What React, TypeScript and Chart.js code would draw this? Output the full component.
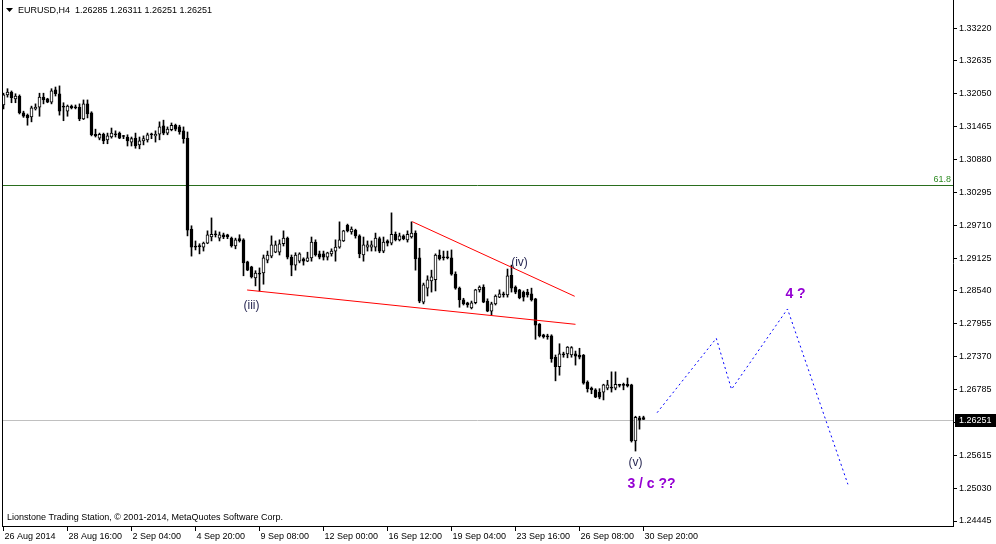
import React, { useEffect, useRef } from "react";
import { Chart, registerables } from "chart.js";

Chart.register(...registerables);

// ---------- data ----------
const titleText = "EURUSD,H4  1.26285 1.26311 1.26251 1.26251";
const footerText = "Lionstone Trading Station, \u00A9 2001-2014, MetaQuotes Software Corp.";

const xTickIndex = [0, 16, 32, 48, 64, 80, 96, 112, 128, 144, 160];
const xTickLabels = [
  "26 Aug 2014", "28 Aug 16:00", "2 Sep 04:00", "4 Sep 20:00", "9 Sep 08:00",
  "12 Sep 00:00", "16 Sep 12:00", "19 Sep 04:00", "23 Sep 16:00", "26 Sep 08:00", "30 Sep 20:00",
];
const yTickValues = [
  1.3322, 1.32635, 1.3205, 1.31465, 1.3088, 1.30295, 1.2971, 1.29125,
  1.2854, 1.27955, 1.2737, 1.26785, 1.262, 1.25615, 1.2503, 1.24445,
];

const openP = [
  1.3185, 1.3203, 1.3208, 1.3196, 1.3201, 1.3171, 1.3167, 1.3164, 1.3178, 1.3181,
  1.3199, 1.3196, 1.3190, 1.3212, 1.3205, 1.3183, 1.3174, 1.3183, 1.3181, 1.3181,
  1.3160, 1.3187, 1.3171, 1.3133, 1.3126, 1.3133, 1.3123, 1.3128, 1.3133, 1.3135,
  1.3130, 1.3128, 1.3119, 1.3126, 1.3114, 1.3121, 1.3123, 1.3133, 1.3130, 1.3133,
  1.3148, 1.3135, 1.3141, 1.3149, 1.3146, 1.3139, 1.3126, 1.2964, 1.2934, 1.2934,
  1.2932, 1.2939, 1.2950, 1.2955, 1.2948, 1.2954, 1.2954, 1.2948, 1.2934, 1.2947,
  1.2945, 1.2906, 1.2897, 1.2877, 1.2886, 1.2886, 1.2909, 1.2916, 1.2923, 1.2923,
  1.2938, 1.2948, 1.2914, 1.2900, 1.2907, 1.2911, 1.2907, 1.2913, 1.2941, 1.2920,
  1.2920, 1.2914, 1.2920, 1.2925, 1.2932, 1.2943, 1.2971, 1.2959, 1.2962, 1.2952,
  1.2918, 1.2932, 1.2932, 1.2932, 1.2947, 1.2925, 1.2943, 1.2939, 1.2955, 1.2945,
  1.2952, 1.2945, 1.2950, 1.2957, 1.2913, 1.2834, 1.2859, 1.2872, 1.2874, 1.2918,
  1.2914, 1.2914, 1.2913, 1.2884, 1.2859, 1.2838, 1.2833, 1.2824, 1.2833, 1.2856,
  1.2861, 1.2836, 1.2818, 1.2831, 1.2843, 1.2849, 1.2847, 1.2882, 1.2861, 1.2856,
  1.2852, 1.2852, 1.2849, 1.2840, 1.2795, 1.2776, 1.2774, 1.2774, 1.2736, 1.2719,
  1.2742, 1.2742, 1.2740, 1.2742, 1.2740, 1.2740, 1.2692, 1.2681, 1.2678, 1.2674,
  1.2674, 1.2681, 1.2683, 1.2681, 1.2687, 1.2687, 1.2688, 1.2687, 1.2587, 1.2628,
  1.26285,
];
const highP = [
  1.3206, 1.3214, 1.3210, 1.3205, 1.3203, 1.3174, 1.3169, 1.3183, 1.3187, 1.3206,
  1.3206, 1.3197, 1.3214, 1.3217, 1.3219, 1.3189, 1.3185, 1.3185, 1.3185, 1.3187,
  1.3194, 1.3194, 1.3173, 1.3142, 1.3135, 1.3135, 1.3135, 1.3144, 1.3139, 1.3137,
  1.3131, 1.3132, 1.3128, 1.3135, 1.3128, 1.3130, 1.3135, 1.3135, 1.3139, 1.3155,
  1.3158, 1.3146, 1.3153, 1.3151, 1.3149, 1.3146, 1.3137, 1.2970, 1.2943, 1.2938,
  1.2941, 1.2961, 1.2984, 1.2961, 1.2959, 1.2957, 1.2955, 1.2950, 1.2948, 1.2954,
  1.2947, 1.2907, 1.2898, 1.2890, 1.2895, 1.2918, 1.2925, 1.2952, 1.2943, 1.2945,
  1.2961, 1.2950, 1.2918, 1.2922, 1.2922, 1.2913, 1.2923, 1.2950, 1.2945, 1.2925,
  1.2925, 1.2923, 1.2929, 1.2945, 1.2977, 1.2962, 1.2973, 1.2968, 1.2964, 1.2954,
  1.2950, 1.2943, 1.2943, 1.2957, 1.2950, 1.2950, 1.2945, 1.2993, 1.2959, 1.2957,
  1.2954, 1.2961, 1.2977, 1.2961, 1.2930, 1.2868, 1.2881, 1.2891, 1.2920, 1.2927,
  1.2925, 1.2925, 1.2927, 1.2888, 1.2861, 1.2841, 1.2834, 1.2836, 1.2857, 1.2863,
  1.2865, 1.2840, 1.2834, 1.2847, 1.2856, 1.2852, 1.2893, 1.2900, 1.2863, 1.2857,
  1.2854, 1.2857, 1.2859, 1.2841, 1.2796, 1.2777, 1.2777, 1.2776, 1.2740, 1.2760,
  1.2745, 1.2755, 1.2755, 1.2747, 1.2752, 1.2741, 1.2694, 1.2683, 1.2680, 1.2680,
  1.2688, 1.2695, 1.2710, 1.2710, 1.2688, 1.2690, 1.2699, 1.2688, 1.2631, 1.2631,
  1.26311,
];
const lowP = [
  1.3178, 1.3199, 1.3189, 1.3189, 1.3169, 1.3163, 1.3149, 1.3155, 1.3176, 1.3165,
  1.3187, 1.3189, 1.3187, 1.3201, 1.3167, 1.3157, 1.3165, 1.3178, 1.3178, 1.3157,
  1.3159, 1.3162, 1.3130, 1.3128, 1.3123, 1.3116, 1.3116, 1.3126, 1.3128, 1.3125,
  1.3125, 1.3112, 1.3112, 1.3108, 1.3107, 1.3114, 1.3119, 1.3125, 1.3119, 1.3123,
  1.3132, 1.3132, 1.3139, 1.3139, 1.3133, 1.3117, 1.2952, 1.2916, 1.2927, 1.2920,
  1.2925, 1.2938, 1.2943, 1.2950, 1.2943, 1.2947, 1.2947, 1.2932, 1.2929, 1.2941,
  1.2881, 1.2890, 1.2877, 1.2863, 1.2854, 1.2866, 1.2904, 1.2913, 1.2922, 1.2918,
  1.2934, 1.2911, 1.2881, 1.2891, 1.2904, 1.2900, 1.2906, 1.2907, 1.2916, 1.2911,
  1.2909, 1.2909, 1.2916, 1.2907, 1.2930, 1.2942, 1.2959, 1.2955, 1.2948, 1.2913,
  1.2907, 1.2925, 1.2925, 1.2925, 1.2922, 1.2922, 1.2934, 1.2936, 1.2943, 1.2943,
  1.2945, 1.2941, 1.2948, 1.2891, 1.2833, 1.2831, 1.2845, 1.2852, 1.2854, 1.2909,
  1.2909, 1.2911, 1.2882, 1.2857, 1.2825, 1.2829, 1.2825, 1.2822, 1.2831, 1.2852,
  1.2833, 1.2817, 1.2811, 1.2829, 1.2842, 1.2843, 1.2843, 1.2852, 1.2849, 1.2840,
  1.2836, 1.2843, 1.2836, 1.2768, 1.2772, 1.2770, 1.2768, 1.2727, 1.2694, 1.2704,
  1.2736, 1.2735, 1.2736, 1.2722, 1.2733, 1.2688, 1.2674, 1.2671, 1.2664, 1.2662,
  1.2660, 1.2678, 1.2674, 1.2678, 1.2683, 1.2678, 1.2683, 1.2585, 1.2569, 1.2608,
  1.26251,
];
const closeP = [
  1.3203, 1.3208, 1.3198, 1.3201, 1.3171, 1.3165, 1.3162, 1.3180, 1.3181, 1.3199,
  1.3194, 1.3190, 1.3210, 1.3205, 1.3174, 1.3181, 1.3183, 1.3180, 1.3180, 1.3160,
  1.3187, 1.3169, 1.3132, 1.3130, 1.3133, 1.3121, 1.3130, 1.3135, 1.3132, 1.3126,
  1.3129, 1.3121, 1.3125, 1.3112, 1.3121, 1.3125, 1.3132, 1.3132, 1.3133, 1.3146,
  1.3135, 1.3142, 1.3149, 1.3142, 1.3137, 1.3125, 1.2962, 1.2932, 1.2932, 1.2933,
  1.2939, 1.2954, 1.2955, 1.2954, 1.2954, 1.2950, 1.2950, 1.2934, 1.2945, 1.2943,
  1.2904, 1.2891, 1.2879, 1.2886, 1.2884, 1.2913, 1.2918, 1.2936, 1.2936, 1.2938,
  1.2948, 1.2914, 1.2900, 1.2918, 1.2920, 1.2907, 1.2913, 1.2941, 1.2918, 1.2914,
  1.2914, 1.2922, 1.2925, 1.2932, 1.2945, 1.2961, 1.2961, 1.2964, 1.2952, 1.2920,
  1.2936, 1.2936, 1.2936, 1.2948, 1.2925, 1.2941, 1.2939, 1.2955, 1.2945, 1.2952,
  1.2947, 1.2955, 1.2957, 1.2911, 1.2836, 1.2865, 1.2874, 1.2879, 1.2918, 1.2911,
  1.2913, 1.2913, 1.2884, 1.2859, 1.2838, 1.2831, 1.2829, 1.2833, 1.2856, 1.2861,
  1.2834, 1.2818, 1.2831, 1.2845, 1.2849, 1.2847, 1.2881, 1.2859, 1.2852, 1.2842,
  1.2843, 1.2847, 1.2838, 1.2793, 1.2774, 1.2772, 1.2772, 1.2733, 1.2719, 1.2742,
  1.2740, 1.2754, 1.2753, 1.2738, 1.2736, 1.2690, 1.2680, 1.2678, 1.2665, 1.2665,
  1.2687, 1.2687, 1.2681, 1.2688, 1.2686, 1.2686, 1.2685, 1.2587, 1.2629, 1.2624,
  1.26251,
];

// trend lines and projection (bar index, price)
const upperTrendX = [102.2, 142.8];
const upperTrendY = [1.29773, 1.28445];
const lowerTrendX = [60.9, 143.0];
const lowerTrendY = [1.28557, 1.27946];
const projectionX = [163.4, 178.2, 182.0, 196.0, 211.1];
const projectionY = [1.26373, 1.27697, 1.26789, 1.28219, 1.25098];

// wave labels
const waveText = ["(iii)", "(iv)", "(v)"];
const waveX = [62, 129, 158];
const waveY = [1.28281, 1.29047, 1.25478];
const targetText = ["3 / c ??", "4 ?"];
const targetX = [162, 198];
const targetY = [1.25104, 1.28486];

const fibPrice = 1.30421;
const fibLabel = "61.8";
const lastPrice = 1.26251;

const Y_MIN = 1.24356;
const Y_MAX = 1.33719;
const X_MIN = -0.375;
const X_MAX = 237.375;

const FONT = "'Liberation Sans', Arial, sans-serif";

const decorPlugin = {
  id: "decor",
  beforeDatasetsDraw(chart: any) {
    const { ctx, chartArea: a, scales } = chart;
    const y = scales.y;
    ctx.save();
    const yp = Math.round(y.getPixelForValue(lastPrice)) + 0.5;
    ctx.strokeStyle = "#c0c0c0";
    ctx.lineWidth = 1;
    ctx.beginPath();
    ctx.moveTo(a.left, yp);
    ctx.lineTo(a.right, yp);
    ctx.stroke();
    const yf = Math.round(y.getPixelForValue(fibPrice)) + 0.5;
    ctx.strokeStyle = "#2a6e1e";
    ctx.beginPath();
    ctx.moveTo(a.left, yf);
    ctx.lineTo(a.right, yf);
    ctx.stroke();
    ctx.fillStyle = "#2e8b22";
    ctx.font = `9px ${FONT}`;
    ctx.textAlign = "right";
    ctx.textBaseline = "bottom";
    ctx.fillText(fibLabel, a.right - 2, yf - 1);
    ctx.restore();
  },
  afterDatasetsDraw(chart: any) {
    const { ctx, scales } = chart;
    const { x, y } = scales;
    ctx.save();
    ctx.textAlign = "center";
    ctx.textBaseline = "middle";
    ctx.font = `12px ${FONT}`;
    ctx.fillStyle = "#2a2a55";
    waveText.forEach((t, i) => {
      ctx.fillText(t, x.getPixelForValue(waveX[i]), y.getPixelForValue(waveY[i]));
    });
    ctx.font = `bold 14px ${FONT}`;
    ctx.fillStyle = "#9400d3";
    targetText.forEach((t, i) => {
      ctx.fillText(t, x.getPixelForValue(targetX[i]), y.getPixelForValue(targetY[i]));
    });
    ctx.restore();
  },
  afterDraw(chart: any) {
    const { ctx, chartArea: a, scales } = chart;
    const y = scales.y;
    ctx.save();
    // left frame
    ctx.strokeStyle = "#000";
    ctx.lineWidth = 1;
    ctx.beginPath();
    ctx.moveTo(a.left + 0.5, 0);
    ctx.lineTo(a.left + 0.5, a.bottom);
    ctx.stroke();
    // title
    ctx.fillStyle = "#000";
    ctx.beginPath();
    ctx.moveTo(6, 8);
    ctx.lineTo(13, 8);
    ctx.lineTo(9.5, 12);
    ctx.closePath();
    ctx.fill();
    ctx.font = `9px ${FONT}`;
    ctx.textAlign = "left";
    ctx.textBaseline = "middle";
    ctx.fillText(titleText, 18, 11);
    // footer
    ctx.fillText(footerText, 7, 518);
    // price box
    const yp = Math.round(y.getPixelForValue(lastPrice));
    ctx.fillStyle = "#000";
    ctx.fillRect(a.right + 2, yp - 6, 996 - a.right - 2, 13);
    ctx.fillStyle = "#fff";
    ctx.fillText(lastPrice.toFixed(5), a.right + 6, yp + 1);
    ctx.restore();
  },
};

export default function App() {
  const ref = useRef<HTMLCanvasElement | null>(null);

  useEffect(() => {
    if (!ref.current) return;
    const bullBody = openP.map((o, i) => closeP[i] >= o);
    const chart = new Chart(ref.current, {
      type: "bar",
      data: {
        datasets: [
          {
            type: "line",
            data: upperTrendX.map((v, i) => ({ x: v, y: upperTrendY[i] })),
            borderColor: "#ff0000",
            borderWidth: 1,
            pointRadius: 0,
            fill: false,
            order: -2,
          } as any,
          {
            type: "line",
            data: lowerTrendX.map((v, i) => ({ x: v, y: lowerTrendY[i] })),
            borderColor: "#ff0000",
            borderWidth: 1,
            pointRadius: 0,
            fill: false,
            order: -2,
          } as any,
          {
            type: "line",
            data: projectionX.map((v, i) => ({ x: v, y: projectionY[i] })),
            borderColor: "#0000ff",
            borderWidth: 1,
            borderDash: [2, 3],
            pointRadius: 0,
            fill: false,
            order: -2,
          } as any,
          {
            type: "bar",
            data: openP.map((o, i) => ({ x: i, y: [o, closeP[i]] })),
            backgroundColor: bullBody.map((b) => (b ? "#ffffff" : "#000000")),
            borderColor: "#000000",
            borderWidth: 1,
            borderSkipped: false,
            barThickness: 3,
            minBarLength: 1,
            grouped: false,
            order: 0,
          } as any,
          {
            type: "bar",
            data: lowP.map((l, i) => ({ x: i, y: [l, highP[i]] })),
            backgroundColor: "#000000",
            borderWidth: 0,
            barThickness: 1,
            minBarLength: 1,
            grouped: false,
            order: 1,
          } as any,
        ],
      },
      options: {
        animation: false,
        responsive: false,
        maintainAspectRatio: false,
        events: [],
        layout: { padding: { left: 2, top: 0, right: 0, bottom: 0 } },
        plugins: { legend: { display: false }, tooltip: { enabled: false } },
        scales: {
          x: {
            type: "linear",
            min: X_MIN,
            max: X_MAX,
            offset: false,
            bounds: "data",
            grid: { offset: false, drawOnChartArea: false, drawTicks: true, tickLength: 5, color: "#000" },
            border: { display: true, color: "#000", width: 1 },
            afterBuildTicks: (s: any) => {
              s.ticks = xTickIndex.map((v) => ({ value: v }));
            },
            afterFit: (s: any) => {
              s.height = 18;
              s.paddingLeft = 0;
              s.paddingRight = 0;
              s.paddingTop = 0;
              s.paddingBottom = 0;
            },
            ticks: {
              autoSkip: false,
              maxRotation: 0,
              minRotation: 0,
              align: "start",
              padding: 0,
              labelOffset: 1,
              color: "#000",
              font: { family: FONT, size: 9 },
              callback: (v: any) => {
                const k = xTickIndex.indexOf(Number(v));
                return k >= 0 ? xTickLabels[k] : "";
              },
            },
          },
          y: {
            type: "linear",
            position: "right",
            min: Y_MIN,
            max: Y_MAX,
            beginAtZero: false,
            bounds: "data",
            grid: { drawOnChartArea: false, drawTicks: true, tickLength: 4, color: "#000" },
            border: { display: true, color: "#000", width: 1 },
            afterBuildTicks: (s: any) => {
              s.ticks = yTickValues.map((v) => ({ value: v }));
            },
            afterFit: (s: any) => {
              s.width = 43;
              s.paddingTop = 0;
              s.paddingBottom = 0;
              s.paddingLeft = 0;
              s.paddingRight = 0;
            },
            ticks: {
              autoSkip: false,
              padding: 2,
              color: "#000",
              font: { family: FONT, size: 9 },
              callback: (v: any) => Number(v).toFixed(5),
            },
          },
        },
      } as any,
      plugins: [decorPlugin],
    });
    return () => chart.destroy();
  }, []);

  return (
    <div style={{ position: "absolute", left: 0, top: 0, width: 996, height: 544, background: "#fff" }}>
      <canvas ref={ref} width={996} height={544} style={{ display: "block" }} />
    </div>
  );
}
